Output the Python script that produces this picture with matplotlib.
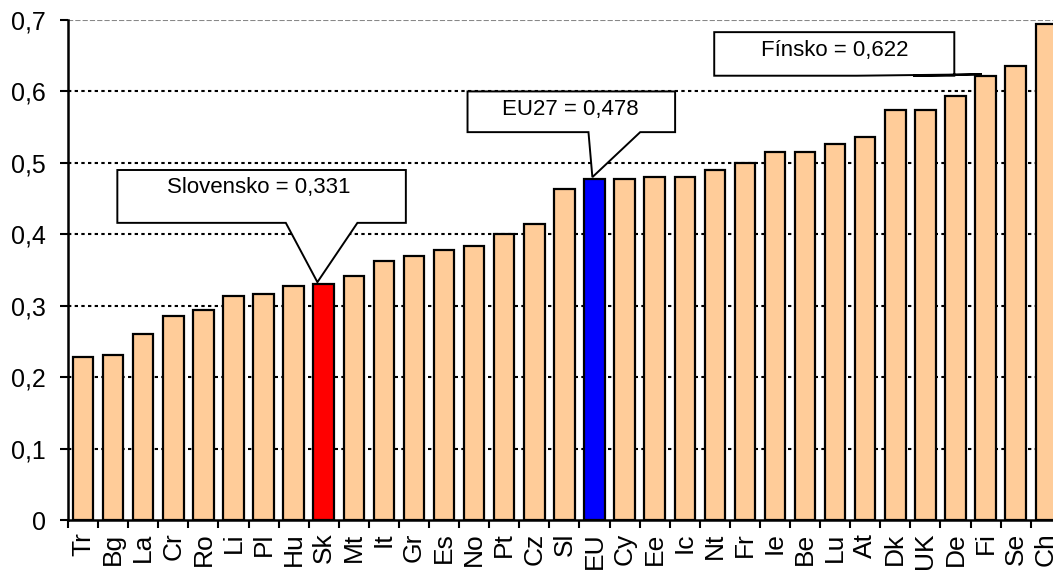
import matplotlib
matplotlib.use('Agg')
import matplotlib.pyplot as plt
from matplotlib.patches import Polygon
import numpy as np

plt.rcParams['font.family'] = ['Liberation Sans', 'DejaVu Sans']

countries = ['Tr', 'Bg', 'La', 'Cr', 'Ro', 'Li', 'Pl', 'Hu', 'Sk', 'Mt', 'It',
             'Gr', 'Es', 'No', 'Pt', 'Cz', 'Sl', 'EU', 'Cy', 'Ee', 'Ic', 'Nt',
             'Fr', 'Ie', 'Be', 'Lu', 'At', 'Dk', 'UK', 'De', 'Fi', 'Se', 'Ch']
values = [0.228, 0.231, 0.261, 0.286, 0.294, 0.314, 0.317, 0.327, 0.331, 0.342,
          0.363, 0.370, 0.378, 0.383, 0.401, 0.414, 0.464, 0.478, 0.477, 0.480,
          0.480, 0.490, 0.500, 0.515, 0.515, 0.526, 0.536, 0.574, 0.574, 0.594,
          0.622, 0.635, 0.694]
yticks = [0, 0.1, 0.2, 0.3, 0.4, 0.5, 0.6, 0.7]
ytick_labels = ['0', '0,1', '0,2', '0,3', '0,4', '0,5', '0,6', '0,7']

# callouts: label, bar name, box (x0, x1, y0, y1), wedge base (xa, xb), text pos
callouts = [
    ('Slovensko = 0,331', 'Sk', (1.14, 10.73, 0.416, 0.490), (6.74, 9.12), (5.85, 0.465)),
    ('EU27 = 0,478', 'EU', (12.78, 19.68, 0.543, 0.600), (16.80, 18.52), (16.19, 0.575)),
    ('Fínsko = 0,622', 'Fi', (20.98, 28.96, 0.622, 0.683), (25.72, 27.59), (25.0, 0.658)),
]
tip_offset = {'Sk': -0.21, 'EU': -0.07, 'Fi': -0.12}

colors = ['#FFCC99'] * len(countries)
colors[countries.index('Sk')] = '#FF0000'
colors[countries.index('EU')] = '#0000FF'

fig = plt.figure(figsize=(10.53, 5.7), dpi=100)
ax = fig.add_axes([68 / 1053, 50 / 570, 992.8 / 1053, 500 / 570])

x = np.arange(len(countries))
ax.bar(x, values, width=0.68, color=colors, edgecolor='black', linewidth=1.6, zorder=2)

ax.set_xlim(-0.5, len(countries) - 0.5)
ax.set_ylim(0, 0.7)

for y in yticks[1:-1]:
    ax.axhline(y, color='black', lw=1.5, ls=(0, (1.6, 1.6)), zorder=1)
ax.axhline(0.7, color='#888888', lw=1.5, ls=(0, (2.5, 1)), zorder=1)

ax.set_yticks(yticks)
ax.set_yticklabels(ytick_labels, fontsize=18)
ax.tick_params(axis='y', direction='out', length=6, width=1.5, pad=10)

ax.set_xticks(x)
ax.set_xticklabels(countries, rotation=90, fontsize=19)
ax.set_xticks(np.arange(len(countries) + 1) - 0.5, minor=True)
ax.tick_params(axis='x', which='major', length=0, pad=9)
ax.tick_params(axis='x', which='minor', direction='out', length=6, width=1.5)

for side in ['top', 'right']:
    ax.spines[side].set_visible(False)
for side in ['left', 'bottom']:
    ax.spines[side].set_linewidth(1.8)

for label, name, (x0, x1, y0, y1), (xa, xb), (tx, ty) in callouts:
    i = countries.index(name)
    tip = (i + tip_offset[name], values[i] + 0.002)
    poly = Polygon([(x0, y1), (x1, y1), (x1, y0), (xb, y0), tip, (xa, y0), (x0, y0)],
                   closed=True, facecolor='white', edgecolor='black', lw=1.4,
                   zorder=4, clip_on=False)
    ax.add_patch(poly)
    ax.text(tx, ty, label, fontsize=16, ha='center', va='center', zorder=5)

fig.savefig('out.png', dpi=100)
